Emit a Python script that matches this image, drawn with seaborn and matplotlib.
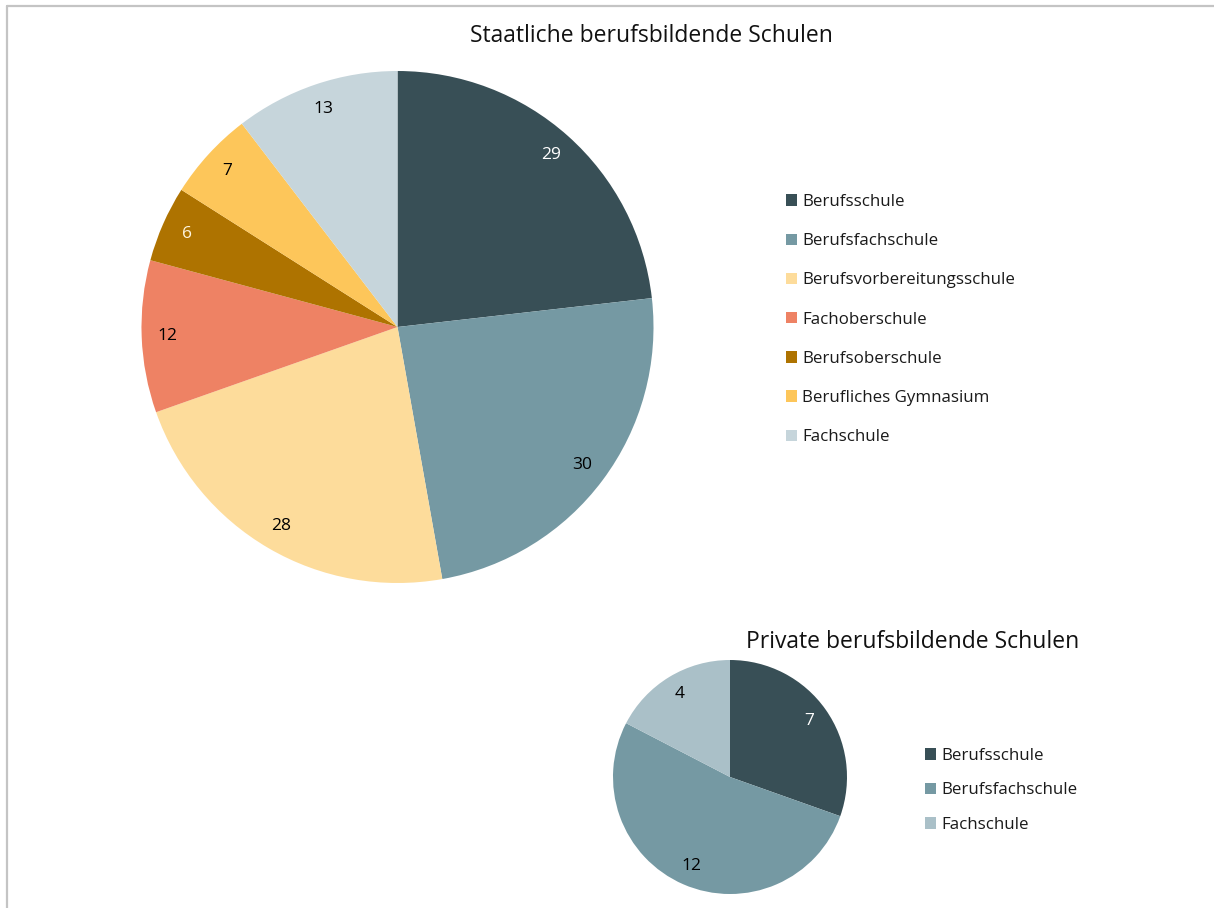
import matplotlib
matplotlib.use("Agg")
import matplotlib.pyplot as plt
from matplotlib.patches import Patch
from matplotlib.lines import Line2D
import seaborn as sns

# Staatliche berufsbildende Schulen
state_types = ["Berufsschule", "Berufsfachschule", "Berufsvorbereitungsschule",
               "Fachoberschule", "Berufsoberschule", "Berufliches Gymnasium",
               "Fachschule"]
state_counts = [29, 30, 28, 12, 6, 7, 13]
state_colors = ["#384F56", "#7599A3", "#FDDC9B", "#EE8264", "#AE7300",
                "#FDC65A", "#C6D5DB"]
state_text = ["white", "black", "black", "black", "#FFF6E0", "black", "black"]

# Private berufsbildende Schulen
private_types = ["Berufsschule", "Berufsfachschule", "Fachschule"]
private_counts = [7, 12, 4]
private_colors = ["#384F56", "#7599A3", "#AAC0C8"]
private_text = ["white", "black", "black"]

sns.set_theme(style="white")
plt.rcParams["font.family"] = ["Open Sans", "DejaVu Sans"]
plt.rcParams["text.color"] = "#1A1A1A"

W, H = 1214, 908
fig = plt.figure(figsize=(W / 100, H / 100), dpi=100)
fig.patch.set_facecolor("white")


def px_axes(cx, cy, r):
    """Axes whose unit circle sits at pixel centre (cx, cy) with radius r."""
    return fig.add_axes([(cx - r) / W, 1 - (cy + r) / H, 2 * r / W, 2 * r / H])


def draw_pie(ax, counts, colors, text_colors, dist, fontsize):
    total = sum(counts)
    wedges, _, autotexts = ax.pie(
        counts, colors=colors, startangle=90, counterclock=False,
        autopct=lambda p: f"{p * total / 100:.0f}", pctdistance=dist,
        wedgeprops=dict(linewidth=0), textprops=dict(fontsize=fontsize))
    for t, c in zip(autotexts, text_colors):
        t.set_color(c)
    ax.set_xlim(-1, 1)
    ax.set_ylim(-1, 1)
    ax.set_aspect("equal")
    ax.axis("off")
    return wedges


ax1 = px_axes(397.5, 327, 256)
draw_pie(ax1, state_counts, state_colors, state_text, 0.9, 12.5)

ax2 = px_axes(730, 777, 117)
draw_pie(ax2, private_counts, private_colors, private_text, 0.83, 12.5)

fig.text(651 / W, 1 - 36 / H, "Staatliche berufsbildende Schulen",
         ha="center", va="center", fontsize=16.5, color="#111111")
fig.text(913 / W, 1 - 642 / H, "Private berufsbildende Schulen",
         ha="center", va="center", fontsize=16.5, color="#111111")

leg_kw = dict(frameon=False, loc="upper left", borderpad=0, borderaxespad=0,
              handlelength=0.65, handleheight=0.65, handletextpad=0.32,
              fontsize=12.2)

h1 = [Patch(facecolor=c, edgecolor="none") for c in state_colors]
fig.legend(h1, state_types, bbox_to_anchor=(786 / W, 1 - 194 / H),
           labelspacing=1.37, **leg_kw)

h2 = [Patch(facecolor=c, edgecolor="none") for c in private_colors]
fig.legend(h2, private_types, bbox_to_anchor=(925 / W, 1 - 748 / H),
           labelspacing=1.09, **leg_kw)

# thin frame along the top and left edges
fig.add_artist(Line2D([7 / W, 1], [1 - 6 / H, 1 - 6 / H], color="#C4C4C4",
                      linewidth=1.6, transform=fig.transFigure))
fig.add_artist(Line2D([7 / W, 7 / W], [0, 1 - 6 / H], color="#C4C4C4",
                      linewidth=1.6, transform=fig.transFigure))

fig.savefig("out.png", dpi=100, facecolor="white")
